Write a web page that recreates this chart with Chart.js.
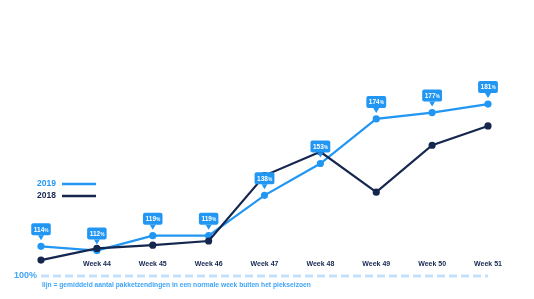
<!DOCTYPE html>
<html>
<head>
<meta charset="utf-8">
<script src="https://cdn.jsdelivr.net/npm/chart.js@4.4.1/dist/chart.umd.min.js"></script>
<style>
  html, body { margin: 0; padding: 0; background: #fff; }
  #wrap { width: 534px; height: 299px; position: relative; }
</style>
</head>
<body>
<div id="wrap"><canvas id="myChart" width="534" height="299"></canvas></div>
<script>
const weeks = ['Week 43', 'Week 44', 'Week 45', 'Week 46', 'Week 47', 'Week 48', 'Week 49', 'Week 50', 'Week 51'];
const weekLabels = ['', 'Week 44', 'Week 45', 'Week 46', 'Week 47', 'Week 48', 'Week 49', 'Week 50', 'Week 51'];
const values2019 = [114, 112, 119, 119, 138, 153, 174, 177, 181];
const values2018 = [107.5, 113, 114.5, 116.5, 147.3, 158.5, 139.5, 161.6, 170.7];
const baseline = [100, 100, 100, 100, 100, 100, 100, 100, 100];
const footnote = 'lijn = gemiddeld aantal pakketzendingen in een normale week buiten het piekseizoen';

const blue = '#2196F3';
const navy = '#15264F';
const fontName = '"Liberation Sans", Arial, sans-serif';

// callouts above the 2019 points, week labels, legend, 100% text
const decorPlugin = {
  id: 'decor',
  afterDatasetsDraw(chart) {
    const ctx = chart.ctx;
    const x = chart.scales.x;
    const y = chart.scales.y;
    ctx.save();

    // week labels
    ctx.fillStyle = navy;
    ctx.font = 'bold 7px ' + fontName;
    ctx.textAlign = 'center';
    ctx.textBaseline = 'middle';
    weekLabels.forEach((lbl, i) => {
      if (lbl) ctx.fillText(lbl, x.getPixelForValue(i), chart.chartArea.bottom - 12);
    });

    // callouts
    values2019.forEach((v, i) => {
      let px = x.getPixelForValue(i);
      let py = y.getPixelForValue(v);
      let num = String(v);
      ctx.font = 'bold 6.5px ' + fontName;
      let w1 = ctx.measureText(num).width;
      ctx.font = 'bold 4.5px ' + fontName;
      let w2 = ctx.measureText('%').width;
      let w = w1 + w2 + 5;
      let h = 12;
      let tip = py - 6;
      let bottom = py - 11;
      let left = px - w / 2;
      ctx.fillStyle = blue;
      ctx.beginPath();
      ctx.roundRect(left, bottom - h, w, h, 2);
      ctx.fill();
      ctx.beginPath();
      ctx.moveTo(px - 3, bottom);
      ctx.lineTo(px + 3, bottom);
      ctx.lineTo(px, tip);
      ctx.closePath();
      ctx.fill();
      ctx.fillStyle = '#fff';
      ctx.textAlign = 'left';
      ctx.textBaseline = 'alphabetic';
      ctx.font = 'bold 6.5px ' + fontName;
      let start = left + 2.5;
      ctx.fillText(num, start, bottom - h / 2 + 2.3);
      ctx.font = 'bold 4.5px ' + fontName;
      ctx.fillText('%', start + w1 + 0.3, bottom - h / 2 + 2.3);
    });

    // legend
    const legend = [['2019', blue, 184], ['2018', navy, 196]];
    legend.forEach(([txt, col, ly]) => {
      ctx.fillStyle = col;
      ctx.font = 'bold 8.5px ' + fontName;
      ctx.textAlign = 'left';
      ctx.textBaseline = 'middle';
      ctx.fillText(txt, 37, ly);
      ctx.strokeStyle = col;
      ctx.lineWidth = 2.5;
      ctx.beginPath();
      ctx.moveTo(62, ly);
      ctx.lineTo(96, ly);
      ctx.stroke();
    });

    // 100% and footnote
    let by = y.getPixelForValue(100);
    ctx.fillStyle = '#42A5F5';
    ctx.font = 'bold 9px ' + fontName;
    ctx.textAlign = 'left';
    ctx.textBaseline = 'middle';
    ctx.fillText('100%', 14, by);
    ctx.font = 'bold 6.7px ' + fontName;
    ctx.fillText(footnote, 42, by + 9);
    ctx.restore();
  }
};

const data = {
  labels: weeks,
  datasets: [
    {
      label: '2018',
      data: values2018,
      borderColor: navy,
      backgroundColor: navy,
      borderWidth: 2.2,
      pointRadius: 2.5,
      pointHoverRadius: 2.5,
      tension: 0,
    },
    {
      label: '2019',
      data: values2019,
      borderColor: blue,
      backgroundColor: blue,
      borderWidth: 2.2,
      pointRadius: 2.5,
      pointHoverRadius: 2.5,
      tension: 0,
    },
    {
      label: '100%',
      data: baseline,
      borderColor: '#C3E1FA',
      borderWidth: 3,
      borderDash: [8, 4],
      pointRadius: 0,
      clip: false,
    },
  ],
};

const config = {
  type: 'line',
  data: data,
  options: {
    responsive: false,
    animation: false,
    events: [],
    layout: { padding: { left: 41, right: 46, top: 20, bottom: 23 } },
    scales: {
      x: { display: false, offset: false },
      y: { display: false, min: 100, max: 220.6 },
    },
    plugins: {
      legend: { display: false },
      tooltip: { enabled: false },
    },
  },
  plugins: [decorPlugin],
};

new Chart(document.getElementById('myChart'), config);
</script>
</body>
</html>
